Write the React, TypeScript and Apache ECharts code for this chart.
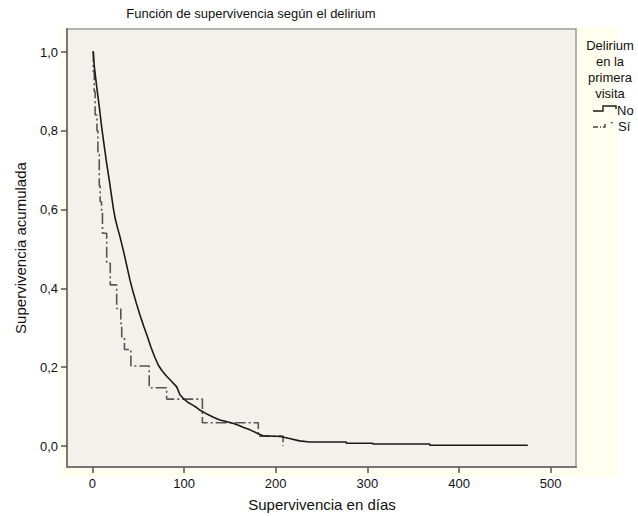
import React, { useEffect, useRef } from "react";
import * as echarts from "echarts";

const titleText = "Función de supervivencia según el delirium";
const xAxisTitle = "Supervivencia en días";
const yAxisTitle = "Supervivencia acumulada";
const legendTitle = ["Delirium", "en la", "primera", "visita"];
const groupNames = ["No", "Sí"];

const xTicks = [0, 100, 200, 300, 400, 500];
const yTicks = [0, 0.2, 0.4, 0.6, 0.8, 1.0];

// Delirium = No (solid): [days, cumulative survival]
const survivalNo: [number, number][] = [
  [0, 1.0], [1, 1.0], [2.1, 0.963], [4.7, 0.912], [7.5, 0.861], [10.1, 0.81],
  [13, 0.76], [15.6, 0.717], [18.4, 0.675], [21, 0.633], [23, 0.601],
  [25, 0.576], [27.5, 0.553], [30, 0.532], [34, 0.494], [37.5, 0.458],
  [41, 0.421], [44.5, 0.39], [48, 0.362], [52, 0.332], [56, 0.304],
  [60, 0.278], [64, 0.25], [68, 0.226], [72, 0.205], [76, 0.191],
  [81, 0.177], [86, 0.165], [92, 0.15], [95.5, 0.13], [99, 0.121],
  [104, 0.111], [110, 0.103], [114, 0.097], [118, 0.09], [125, 0.081],
  [132, 0.073], [139, 0.066], [146, 0.062], [154, 0.057], [160, 0.052],
  [165, 0.047], [172, 0.041], [180, 0.032], [186, 0.026], [205, 0.024],
  [215, 0.019], [226, 0.013], [237, 0.01], [277, 0.01], [277, 0.007],
  [306, 0.007], [306, 0.005], [368, 0.005], [368, 0.002], [475, 0.002],
];

// Delirium = Sí (dash-dot): step points [days, survival after drop]
const survivalSi: [number, number][] = [
  [0, 1.0], [1, 0.95], [2, 0.9], [3, 0.84], [5, 0.8], [6, 0.74],
  [7.5, 0.66], [8.5, 0.62], [10, 0.595], [11, 0.54], [15.6, 0.464],
  [19.5, 0.409], [26.5, 0.349], [31, 0.311], [32, 0.277], [35, 0.245],
  [42, 0.203], [62, 0.148], [81, 0.119], [120, 0.059], [181, 0.025],
  [208, 0.0],
];

const FONT = "'Liberation Sans', Arial, Helvetica, sans-serif";

export default function App() {
  const ref = useRef<HTMLDivElement>(null);
  useEffect(() => {
    if (!ref.current) return;
    const chart = echarts.init(ref.current, null, { renderer: "svg" });
    const legendTextEls = legendTitle.map((t, i) => ({
      type: "text",
      x: 610,
      y: 45 + i * 16,
      style: { text: t, font: `13px ${FONT}`, fill: "#111", align: "center", verticalAlign: "middle" },
    }));
    chart.setOption({
      animation: false,
      backgroundColor: "#ffffff",
      textStyle: { fontFamily: FONT },
      grid: {
        left: 67, top: 29, width: 509, height: 438,
        show: true, backgroundColor: "#f3f1ec", borderColor: "#9a9a9a", borderWidth: 1.5,
      },
      xAxis: {
        type: "value", min: -27.7, max: 527.6,
        axisLine: { show: true, onZero: false, lineStyle: { color: "#777", width: 2 } },
        axisTick: { show: true, customValues: xTicks, length: 6, lineStyle: { color: "#555", width: 1.5 } },
        axisLabel: { customValues: xTicks, margin: 10, fontSize: 13, color: "#111", fontFamily: FONT },
        splitLine: { show: false },
      },
      yAxis: {
        type: "value", min: -0.0533, max: 1.0584,
        axisLine: { show: true, onZero: false, lineStyle: { color: "#777", width: 2 } },
        axisTick: { show: true, customValues: yTicks, length: 6, lineStyle: { color: "#555", width: 1.5 } },
        axisLabel: {
          customValues: yTicks, margin: 9, fontSize: 13, color: "#111", fontFamily: FONT,
          formatter: (v: number) => v.toFixed(1).replace(".", ","),
        },
        splitLine: { show: false },
      },
      series: [
        {
          name: groupNames[0], type: "line", data: survivalNo, showSymbol: false, symbol: "none",
          lineStyle: { color: "#1a1a1a", width: 1.6 }, z: 3,
        },
        {
          name: groupNames[1], type: "line", step: "end", data: survivalSi, showSymbol: false, symbol: "none",
          lineStyle: { color: "#555", width: 1.6, type: [11, 3, 2, 3] }, z: 2,
        },
      ],
      graphic: [
        { type: "rect", z: -100, shape: { x: 58, y: 27, width: 559, height: 450 }, style: { fill: "#fffff0" }, silent: true },
        {
          type: "text", x: 251, y: 13,
          style: { text: titleText, font: `13px ${FONT}`, fill: "#111", align: "center", verticalAlign: "middle" },
        },
        {
          type: "text", x: 322, y: 504,
          style: { text: xAxisTitle, font: `15px ${FONT}`, fill: "#111", align: "center", verticalAlign: "middle" },
        },
        {
          type: "text", x: 20, y: 248, rotation: Math.PI / 2,
          style: { text: yAxisTitle, font: `15px ${FONT}`, fill: "#111", align: "center", verticalAlign: "middle" },
        },
        ...legendTextEls,
        {
          type: "polyline",
          shape: { points: [[593, 111], [603, 111], [603, 106], [616, 106], [616, 109]] },
          style: { stroke: "#1a1a1a", lineWidth: 1.4, fill: "none" },
        },
        {
          type: "text", x: 617, y: 110,
          style: { text: groupNames[0], font: `13px ${FONT}`, fill: "#111", align: "left", verticalAlign: "middle" },
        },
        {
          type: "polyline",
          shape: { points: [[593, 127], [605, 127], [605, 122]] },
          style: { stroke: "#444", lineWidth: 1.4, fill: "none", lineDash: [5, 2, 1, 2] },
        },
        {
          type: "rect", shape: { x: 611, y: 122, width: 1.5, height: 1.5 }, style: { fill: "#444" },
        },
        {
          type: "text", x: 618, y: 126,
          style: { text: groupNames[1], font: `13px ${FONT}`, fill: "#111", align: "left", verticalAlign: "middle" },
        },
      ],
    });
    return () => chart.dispose();
  }, []);
  return <div ref={ref} style={{ position: "fixed", left: 0, top: 0, width: 638, height: 516 }} />;
}
